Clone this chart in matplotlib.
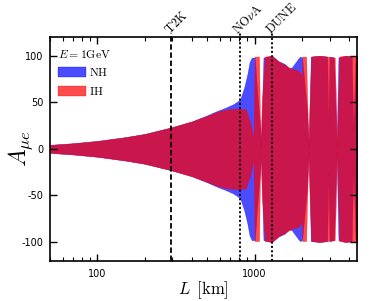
import numpy as np
import matplotlib
matplotlib.use('Agg')
import matplotlib.pyplot as plt
from matplotlib.ticker import FixedLocator, FixedFormatter, NullFormatter

# 基線長 [km] と CP 非対称性の包絡線 (NH / IH)
L_nh = [50, 70, 100, 150, 200, 295, 400, 500, 575, 650, 735, 810, 860, 900, 930, 960,
        1005, 1030, 1060, 1085, 1100, 1120, 1140, 1290, 1420, 1560, 1650, 1720, 1810, 1900,
        1950, 2010, 2080, 2150, 2215, 2250, 2280, 2600, 2900, 2950, 3000, 3200, 3330, 3420,
        3800, 4150, 4250, 4400, 4500]
A_nh = [4.3, 6, 8.5, 12.5, 16, 23, 29.5, 36, 40.5, 44, 48, 53, 66, 80, 93, 98,
        98, 70, 45, 25, 3, 55, 98, 100, 94, 91, 86.5, 87, 92, 97,
        99, 98, 70, 45, 3, 55, 99, 100, 99, 25, 99, 98, 3, 98,
        100, 99, 20, 99, 99]

L_ih = [50, 70, 100, 150, 200, 295, 400, 500, 575, 650, 735, 810, 880, 935, 985, 995,
        1003, 1068, 1088, 1115, 1165, 1290, 1420, 1560, 1720, 1900, 1985, 2003, 2015, 2130,
        2200, 2240, 2300, 2600, 3240, 3360, 3460, 3800, 4500]
A_ih = [4.3, 6, 8.5, 12.5, 16, 23, 29.5, 35.5, 39.5, 42, 43, 43, 42.5, 29, 12, 60,
        99, 99, 3, 50, 99, 100, 94, 90, 86, 84, 80, 70, 99, 99,
        3, 50, 99, 100, 98, 3, 99, 100, 99]

experiments = [r'$\mathrm{T2K}$', r'$\mathrm{NO}\nu\mathrm{A}$', r'$\mathrm{DUNE}$']
exp_L = [295, 810, 1300]
exp_ls = [(0, (3, 1.5)), (0, (1.2, 1.2)), (0, (1.2, 1.2))]

plt.rcParams['mathtext.fontset'] = 'cm'
plt.rcParams['axes.unicode_minus'] = False

fig = plt.figure(figsize=(3.74, 3.01), dpi=100)
ax = fig.add_axes([0.134, 0.134, 0.821, 0.743])

L_nh = np.array(L_nh)
A_nh = np.array(A_nh)
L_ih = np.array(L_ih)
A_ih = np.array(A_ih)

ax.fill_between(L_nh, -A_nh, A_nh, color='b', alpha=0.7, lw=0.3, label=r'$\mathrm{NH}$')
ax.fill_between(L_ih, -A_ih, A_ih, color='r', alpha=0.7, lw=0.3, label=r'$\mathrm{IH}$')

# 実験の基線長
for name, l, ls in zip(experiments, exp_L, exp_ls):
    ax.axvline(l, ymin=0, ymax=1.018, color='k', lw=1.3, linestyle=ls, clip_on=False)
    ax.text(l, 120.8, name, rotation=45, rotation_mode='anchor', ha='left', va='bottom',
            fontsize=9)

ax.set_xscale('log')
ax.set_xlim(50, 4500)
ax.set_ylim(-120, 120)

ax.xaxis.set_major_locator(FixedLocator([100, 1000]))
ax.xaxis.set_major_formatter(FixedFormatter(['100', '1000']))
ax.xaxis.set_minor_locator(FixedLocator([50, 60, 70, 80, 90, 200, 300, 400, 500, 600, 700, 800, 900,
                                         2000, 3000, 4000]))
ax.xaxis.set_minor_formatter(NullFormatter())
ax.set_yticks([-100, -50, 0, 50, 100])

ax.tick_params(which='both', direction='in', top=True, right=True, labelsize=7)
ax.tick_params(which='major', length=5, width=1)
ax.tick_params(which='minor', length=3, width=0.8)
ax.tick_params(axis='x', pad=6)
ax.tick_params(axis='y', pad=5)
for sp in ax.spines.values():
    sp.set_linewidth(1.2)

ax.set_xlabel(r'$L\ \,[\mathrm{km}]$', fontsize=12, labelpad=0)
ax.set_ylabel(r'$A_{\mu e}$', fontsize=17)
ax.yaxis.set_label_coords(-0.05, 0.5)

ax.legend(loc='upper left', bbox_to_anchor=(0.0, 0.99), title=r'$E=1\mathrm{GeV}$', frameon=False,
          fontsize=8.5, title_fontsize=8.5, alignment='left', handlelength=2.3, handleheight=0.9,
          handletextpad=0.3, borderaxespad=0.3, labelspacing=0.5)

fig.savefig('out.png', dpi=100)
